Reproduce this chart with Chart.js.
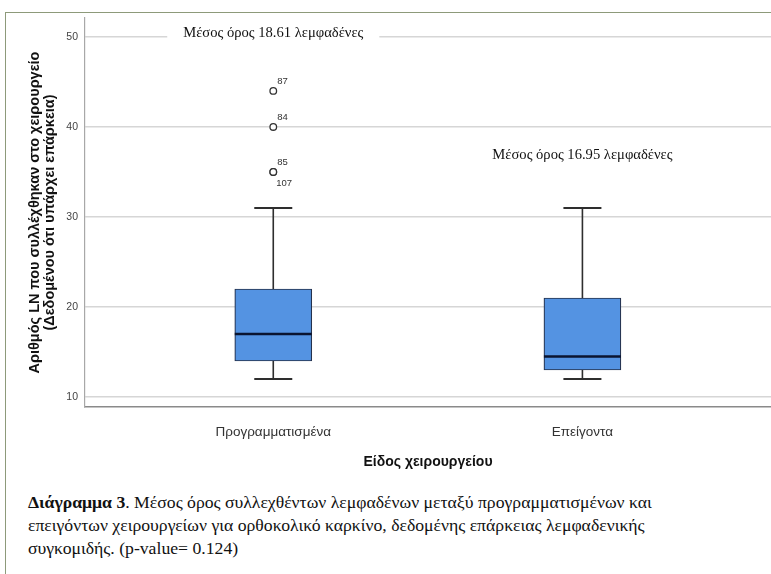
<!DOCTYPE html>
<html lang="el">
<head>
<meta charset="utf-8">
<title>Διάγραμμα 3</title>
<script src="https://cdn.jsdelivr.net/npm/chart.js@4.4.1/dist/chart.umd.min.js"></script>
<style>
  html, body { margin: 0; padding: 0; background: #ffffff; width: 771px; height: 574px; overflow: hidden; }
  #frame { position: absolute; left: 5px; top: 12px; width: 900px; height: 700px;
           border-left: 1.5px solid #8d9a7a; border-top: 1.5px solid #8d9a7a; }
  #wrap { position: absolute; left: 0; top: 0; width: 771px; height: 480px; }
  #caption { position: absolute; left: 28px; top: 491px; font-family: "Liberation Serif", "Times New Roman", serif;
             font-size: 17.7px; line-height: 23px; color: #111; white-space: nowrap; }
  #caption b { font-weight: bold; }
</style>
</head>
<body>
<div id="frame"></div>
<div id="wrap"><canvas id="chart" width="771" height="480"></canvas></div>
<div id="caption">
  <b>Διάγραμμα 3</b>. Μέσος όρος συλλεχθέντων λεμφαδένων μεταξύ προγραμματισμένων και<br>
  επειγόντων χειρουργείων για ορθοκολικό καρκίνο, δεδομένης επάρκειας λεμφαδενικής<br>
  συγκομιδής. (p-value= 0.124)
</div>
<script>
// Surgery type groups
const categories = ['Προγραμματισμένα', 'Επείγοντα'];

// Box plot summaries for lymph nodes harvested per group
const whiskerLow  = [12, 12];
const q1          = [14, 13];
const median      = [17, 14.5];
const q3          = [22, 21];
const whiskerHigh = [31, 31];

// Group means shown as annotations
const means = [18.61, 16.95];

// Outlying cases (group index, value, case number)
const outlierGroup = [0, 0, 0, 0];
const outlierValue = [44, 40, 35, 35];
const outlierCase  = ['87', '84', '85', '107'];

// Y axis tick values
const yTicks = [10, 20, 30, 40, 50];

const BOX_WIDTH = 77;
const CAP_WIDTH = 38;

const boxData = categories.map((c, i) => ({ x: i, y: [q1[i], q3[i]] }));
const outlierData = outlierValue.map((v, i) => ({ x: outlierGroup[i], y: v }));

const boxPlotExtras = {
  id: 'boxPlotExtras',
  afterDatasetsDraw(chart) {
    const { ctx, scales: { x, y } } = chart;
    ctx.save();
    categories.forEach((c, i) => {
      const cx = x.getPixelForValue(i);
      // whiskers
      ctx.strokeStyle = '#2e2e2e';
      ctx.lineWidth = 1.6;
      ctx.beginPath();
      ctx.moveTo(cx, y.getPixelForValue(q3[i]));
      ctx.lineTo(cx, y.getPixelForValue(whiskerHigh[i]));
      ctx.moveTo(cx, y.getPixelForValue(q1[i]));
      ctx.lineTo(cx, y.getPixelForValue(whiskerLow[i]));
      ctx.stroke();
      ctx.lineWidth = 2;
      ctx.beginPath();
      const top = y.getPixelForValue(whiskerHigh[i]);
      const bot = y.getPixelForValue(whiskerLow[i]);
      ctx.moveTo(cx - CAP_WIDTH / 2, top); ctx.lineTo(cx + CAP_WIDTH / 2, top);
      ctx.moveTo(cx - CAP_WIDTH / 2, bot); ctx.lineTo(cx + CAP_WIDTH / 2, bot);
      ctx.stroke();
      // median
      const my = y.getPixelForValue(median[i]);
      ctx.strokeStyle = '#0a1430';
      ctx.lineWidth = 2.5;
      ctx.beginPath();
      ctx.moveTo(cx - BOX_WIDTH / 2, my); ctx.lineTo(cx + BOX_WIDTH / 2, my);
      ctx.stroke();
    });
    // case numbers next to outliers
    ctx.fillStyle = '#333';
    ctx.font = '9.5px "Liberation Sans", Arial, sans-serif';
    ctx.textAlign = 'left';
    ctx.textBaseline = 'middle';
    const seen = {};
    outlierValue.forEach((v, i) => {
      const key = outlierGroup[i] + ':' + v;
      const px = x.getPixelForValue(outlierGroup[i]);
      const py = y.getPixelForValue(v);
      if (seen[key]) {
        ctx.fillText(outlierCase[i], px + 3, py + 11);
      } else {
        ctx.fillText(outlierCase[i], px + 4, py - 10);
        seen[key] = true;
      }
    });
    ctx.restore();
  },
  afterDraw(chart) {
    const { ctx, scales: { x, y } } = chart;
    const labelY = [50.45, 36.9];
    ctx.save();
    ctx.font = '14.6px "Liberation Serif", "Times New Roman", serif';
    ctx.textAlign = 'center';
    ctx.textBaseline = 'middle';
    means.forEach((m, i) => {
      const text = 'Μέσος όρος ' + m.toFixed(2) + ' λεμφαδένες';
      const cx = x.getPixelForValue(i);
      const cy = y.getPixelForValue(labelY[i]);
      const w = ctx.measureText(text).width + 32;
      ctx.fillStyle = '#ffffff';
      ctx.fillRect(cx - w / 2, cy - 9, w, 18);
      ctx.fillStyle = '#111';
      ctx.fillText(text, cx, cy);
    });
    ctx.restore();
  }
};

new Chart(document.getElementById('chart'), {
  type: 'bar',
  data: {
    datasets: [
      {
        type: 'bar',
        data: boxData,
        backgroundColor: '#5493e2',
        borderColor: '#25324d',
        borderWidth: 1.2,
        borderSkipped: false,
        barThickness: BOX_WIDTH,
        order: 2
      },
      {
        type: 'scatter',
        data: outlierData,
        pointStyle: 'circle',
        pointRadius: 3.3,
        pointBackgroundColor: '#ffffff',
        pointBorderColor: '#333333',
        pointBorderWidth: 1.3,
        order: 1
      }
    ]
  },
  plugins: [boxPlotExtras],
  options: {
    responsive: false,
    animation: false,
    layout: { autoPadding: false, padding: { left: 0, top: 18, right: 0, bottom: 0 } },
    plugins: { legend: { display: false }, tooltip: { enabled: false } },
    scales: {
      x: {
        type: 'linear',
        offset: false,
        min: -0.609,
        max: 1.61,
        grid: { display: false, drawTicks: false, offset: false },
        border: { display: true, color: '#8a8a8a', width: 1.6 },
        afterBuildTicks(axis) { axis.ticks = categories.map((c, i) => ({ value: i })); },
        afterFit(axis) { axis.height = 73; },
        ticks: {
          padding: 17,
          color: '#333',
          maxRotation: 0,
          font: { family: '"Liberation Sans", Arial, sans-serif', size: 13.5 },
          callback: (v) => categories[v] ?? ''
        },
        title: {
          display: true,
          text: 'Είδος χειρουργείου',
          color: '#111',
          padding: { top: 0, bottom: 9.5 },
          font: { family: '"Liberation Sans", Arial, sans-serif', size: 14, weight: 'bold' }
        }
      },
      y: {
        type: 'linear',
        min: 8.89,
        max: 52.1,
        grid: { color: '#d6d6d6', lineWidth: 1.5, drawTicks: false },
        border: { display: true, color: '#a8a8a8', width: 1.2 },
        afterBuildTicks(axis) { axis.ticks = yTicks.map(v => ({ value: v })); },
        afterFit(axis) { axis.width = 85; },
        ticks: {
          padding: 7,
          color: '#444',
          font: { family: '"Liberation Sans", Arial, sans-serif', size: 10.5 }
        },
        title: {
          display: true,
          text: ['Αριθμός LN που συλλέχθηκαν στο χειρουργείο', '(Δεδομένου ότι υπάρχει επάρκεια)'],
          color: '#111',
          padding: { top: 27.5, bottom: 0 },
          font: { family: '"Liberation Sans", Arial, sans-serif', size: 14.5, weight: 'bold', lineHeight: 1.05 }
        }
      }
    }
  }
});
</script>
</body>
</html>
